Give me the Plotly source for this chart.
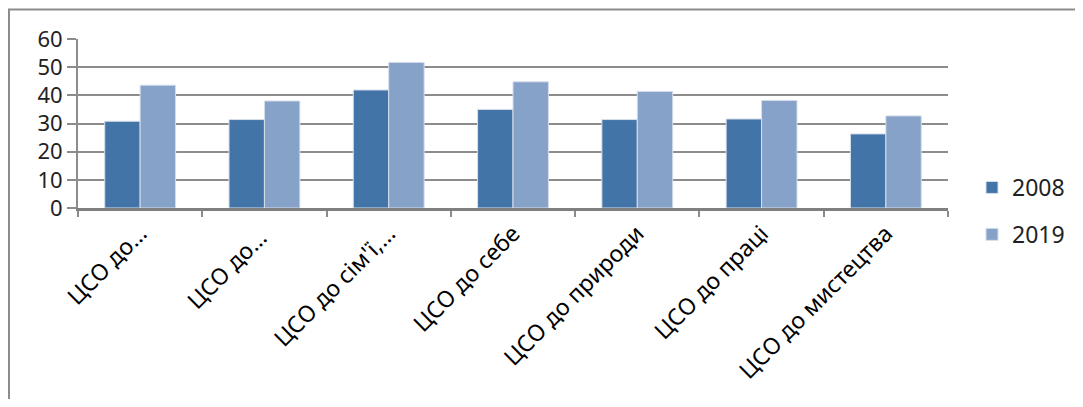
import plotly.graph_objects as go

categories = ["ЦСО до…", "ЦСО до… ", "ЦСО до сім'ї,…", "ЦСО до себе",
              "ЦСО до природи", "ЦСО до праці", "ЦСО до мистецтва"]
series_names = ["2008", "2019"]
values_2008 = [30.8, 31.4, 41.9, 35.0, 31.4, 31.6, 26.3]
values_2019 = [43.6, 38.0, 51.7, 44.8, 41.4, 38.2, 32.7]
y_ticks = [0, 10, 20, 30, 40, 50, 60]

colors = ["#4374A7", "#86A2C9"]
FONT = "Noto Sans"

fig = go.Figure()
for name, vals, col in zip(series_names, [values_2008, values_2019], colors):
    fig.add_trace(go.Bar(
        x=categories, y=vals, name=name, legendgroup=name,
        marker=dict(color=col, line=dict(color="#D5DEEB", width=1)),
    ))

OFF = 8  # page body margin
L, R, T, B = 78 - OFF, 948 - OFF, 39 - OFF, 208 - OFF
W, H = 1083 - 2 * OFF, 407 - 2 * OFF
pw, ph = R - L, B - T

def px(x):
    return (x - OFF - L) / pw

def py(y):
    return (B - (y - OFF)) / ph

fig.update_layout(
    width=W, height=H,
    margin=dict(l=L, r=W - R, t=T, b=H - B, pad=0, autoexpand=False),
    paper_bgcolor="white", plot_bgcolor="white",
    barmode="group", bargap=0.43, bargroupgap=0,
    font=dict(family=FONT, size=22, color="#000000"),
    showlegend=True,
    legend=dict(x=px(972), y=py(211), xanchor="left", yanchor="middle",
                font=dict(family=FONT, size=23, color="#222222"),
                tracegroupgap=14, bgcolor="rgba(0,0,0,0)"),
    shapes=[dict(type="rect", xref="paper", yref="paper",
                 x0=px(9), x1=px(1100), y0=py(9.5), y1=py(430),
                 line=dict(color="#8C8C8C", width=2), layer="below")],
)
fig.update_xaxes(
    type="category", tickangle=-45, tickson="boundaries", automargin=False,
    ticks="outside", ticklen=6, tickwidth=1.5, tickcolor="#8C8C8C",
    showline=True, linecolor="#808080", linewidth=3,
    showgrid=False, tickfont=dict(family=FONT, size=23, color="#000000"),
)
fig.update_yaxes(
    range=[0, 60], tickvals=y_ticks, ticktext=[str(v) for v in y_ticks],
    automargin=False,
    ticks="outside", ticklen=9, tickwidth=2, tickcolor="#8C8C8C",
    showline=True, linecolor="#8C8C8C", linewidth=2,
    showgrid=True, gridcolor="#8C8C8C", gridwidth=2,
    zeroline=False, tickfont=dict(family=FONT, size=22, color="#222222"),
)

fig.write_html("out.html")
